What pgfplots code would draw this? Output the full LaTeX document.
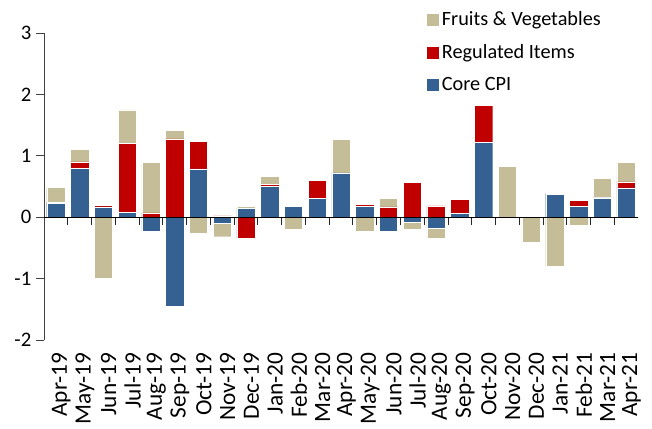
\documentclass[border=0pt]{standalone}
\usepackage{fontspec}
\setmainfont{Carlito}
\usepackage{pgfplots}
\usepackage{pgfplotstable}
\pgfplotsset{compat=1.18}
\definecolor{coreblue}{HTML}{356092}
\definecolor{regred}{HTML}{C00000}
\definecolor{fvtan}{HTML}{C4BD97}

% positive parts (stacked upward)
\pgfplotstableread{
x core reg fv
0 0.23 0.01 0.25
1 0.80 0.10 0.21
2 0.17 0.025 0
3 0.076 1.13 0.54
4 0 0.07 0.82
5 0 1.277 0.136
6 0.788 0.45 0
7 0 0.02 0
8 0.147 0 0.027
9 0.50 0.04 0.12
10 0.174 0.005 0
11 0.304 0.30 0
12 0.723 0 0.54
13 0.18 0.027 0
14 0 0.168 0.136
15 0 0.57 0
16 0 0.185 0
17 0.06 0.228 0
18 1.217 0.609 0
19 0 0 0.826
20 0 0 0
21 0.37 0.016 0
22 0.174 0.098 0
23 0.315 0.005 0.31
24 0.478 0.098 0.315
}\postab

% negative parts (stacked downward)
\pgfplotstableread{
x core reg fv
0 0 0 0
1 0 0 0
2 0 0 -1.00
3 0 0 0
4 -0.234 0 0
5 -1.446 0 0
6 0 0 -0.255
7 -0.098 0 -0.22
8 0 -0.342 0
9 0 0 0
10 0 0 -0.196
11 0 0 0
12 0 -0.01 0
13 0 0 -0.228
14 -0.228 0 0
15 -0.087 0 -0.109
16 -0.174 0 -0.168
17 0 0 0
18 0 0 -0.02
19 0 0 0
20 0 0 -0.413
21 0 0 -0.80
22 0 0 -0.125
23 0 0 0
24 0 0 0
}\negtab

\pgfplotsset{
  mybase/.style={
    scale only axis, width=445.5pt, height=230.25pt,
    xmin=-0.5, xmax=24.5, ymin=-2, ymax=3,
    ybar stacked, bar width=0.77,
    ticklabel style={font=\fontsize{15.5}{18}\selectfont},
    /pgf/number format/assume math mode=true,
  },
  barcore/.style={fill=coreblue, draw=white, line width=0.3pt},
  barreg/.style={fill=regred, draw=white, line width=0.3pt},
  barfv/.style={fill=fvtan, draw=white, line width=0.3pt},
}

\begin{document}
\begin{tikzpicture}
\begin{axis}[mybase,
  axis x line=bottom, axis y line=left,
  axis line style={-},
  x axis line style={draw=none},
  y axis line style={black!75, line width=0.6pt},
  xtick={0,...,24},
  xticklabels={Apr-19,May-19,Jun-19,Jul-19,Aug-19,Sep-19,Oct-19,Nov-19,Dec-19,Jan-20,Feb-20,Mar-20,Apr-20,May-20,Jun-20,Jul-20,Aug-20,Sep-20,Oct-20,Nov-20,Dec-20,Jan-21,Feb-21,Mar-21,Apr-21},
  xticklabel style={rotate=90, anchor=east, yshift=-4pt, font=\fontsize{17.5}{20}\selectfont},
  major x tick style={draw=none},
  ytick={-2,-1,0,1,2,3},
  tick align=outside, major tick length=6pt,
  y tick style={black!75, line width=0.6pt},
  legend style={at={(0.636,1.088)}, anchor=north west, draw=none, fill=none,
    font=\fontsize{15.2}{18}\selectfont, row sep=8.6pt,
    /tikz/every even column/.append style={column sep=2pt}},
  legend cell align=left,
  legend image code/.code={\fill[#1] (0pt,-4.8pt) rectangle (9.6pt,4.8pt);},
  reverse legend,
]
\addplot[barcore] table[x=x, y=core] {\postab};
\addplot[barreg] table[x=x, y=reg] {\postab};
\addplot[barfv] table[x=x, y=fv] {\postab};
\legend{Core CPI, Regulated Items, Fruits \& Vegetables}
\coordinate (O) at (rel axis cs:0,0);
\end{axis}
\begin{axis}[mybase,
  axis on top,
  axis x line=middle, hide y axis,
  x axis line style={-, black, line width=1pt},
  xtick={-0.5,0.5,...,24.5}, xticklabels={},
  tick align=outside, major tick length=6pt,
  x tick style={black!85, line width=0.6pt},
]
\addplot[barcore] table[x=x, y=core] {\negtab};
\addplot[barreg] table[x=x, y=reg] {\negtab};
\addplot[barfv] table[x=x, y=fv] {\negtab};
\end{axis}
\path (O) ++(-33pt,-64.5pt) rectangle ++(489pt,319.5pt);
\end{tikzpicture}
\end{document}
